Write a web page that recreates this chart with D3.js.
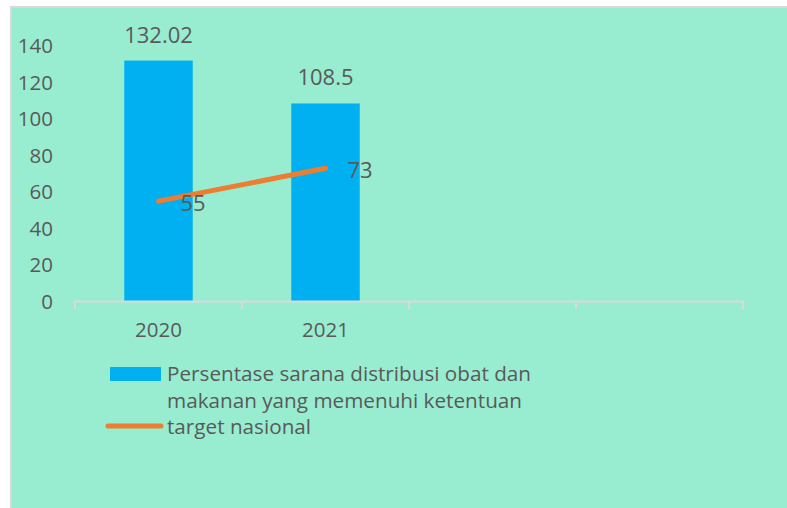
<!DOCTYPE html>
<html>
<head>
<meta charset="utf-8">
<script src="https://cdn.jsdelivr.net/npm/d3@7"></script>
<style>
  body { margin: 0; background: #fff; }
  text { font-family: "Open Sans", sans-serif; fill: #595959; }
</style>
</head>
<body>
<div id="chart"></div>
<script>
// data
var categories = ["2020", "2021", "", ""];
var barValues = [132.02, 108.5];
var targetValues = [55, 73];
var yTicks = [0, 20, 40, 60, 80, 100, 120, 140];
var barName = ["Persentase sarana distribusi obat dan", "makanan yang memenuhi ketentuan"];
var lineName = "target nasional";

var svgWidth = 787;
var svgHeight = 508;

var margin = { top: 46, right: 44, bottom: 206, left: 75 };
var width = svgWidth - margin.left - margin.right;
var height = 301.5 - margin.top;

var svg = d3.select("#chart")
    .append("svg")
    .attr("width", svgWidth)
    .attr("height", svgHeight);

// panel
svg.append("rect")
    .attr("x", 11)
    .attr("y", 7)
    .attr("width", svgWidth - 10)
    .attr("height", svgHeight - 6)
    .attr("fill", "#98edd1")
    .attr("stroke", "#d9d9d9")
    .attr("stroke-width", 2);

var chartGroup = svg.append("g")
    .attr("transform", `translate(${margin.left}, ${margin.top})`);

var xScale = d3.scaleBand()
    .domain(d3.range(categories.length))
    .range([0, width]);

var yScale = d3.scaleLinear()
    .domain([0, 140])
    .range([height, 0]);

// y labels (no axis line)
chartGroup.selectAll(".ylab")
    .data(yTicks)
    .enter()
    .append("text")
    .attr("class", "ylab")
    .attr("x", 53 - margin.left)
    .attr("y", d => yScale(d))
    .attr("dy", "0.35em")
    .attr("text-anchor", "end")
    .attr("font-size", "20.5px")
    .text(d => d);

// bars
var barW = xScale.bandwidth() * 0.41;
chartGroup.selectAll(".bar")
    .data(barValues)
    .enter()
    .append("rect")
    .attr("class", "bar")
    .attr("x", (d, i) => xScale(i) + xScale.bandwidth() / 2 - barW / 2)
    .attr("y", d => yScale(d))
    .attr("width", barW)
    .attr("height", d => height - yScale(d))
    .attr("fill", "#00b0f0");

chartGroup.selectAll(".barlab")
    .data(barValues)
    .enter()
    .append("text")
    .attr("class", "barlab")
    .attr("x", (d, i) => xScale(i) + xScale.bandwidth() / 2)
    .attr("y", d => yScale(d) - 18)
    .attr("text-anchor", "middle")
    .attr("font-size", "22px")
    .text(d => d);

// x axis
var xAxis = d3.axisBottom(xScale)
    .tickFormat(i => categories[i])
    .tickSize(0)
    .tickPadding(21);

var xg = chartGroup.append("g")
    .attr("transform", `translate(0, ${height})`)
    .call(xAxis);
xg.select(".domain").attr("stroke", "#d9d9d9").attr("stroke-width", 2)
    .attr("d", `M0,8V0H${width}V8`);
xg.selectAll("text").attr("font-size", "20.5px").attr("font-family", "Open Sans").attr("fill", "#595959");

chartGroup.selectAll(".sep")
    .data(d3.range(1, categories.length))
    .enter()
    .append("line")
    .attr("class", "sep")
    .attr("x1", i => xScale(i))
    .attr("x2", i => xScale(i))
    .attr("y1", height)
    .attr("y2", height + 8)
    .attr("stroke", "#d9d9d9")
    .attr("stroke-width", 2);

// target line
var line = d3.line()
    .x((d, i) => xScale(i) + xScale.bandwidth() / 2)
    .y(d => yScale(d));

chartGroup.append("path")
    .datum(targetValues)
    .attr("d", line)
    .attr("fill", "none")
    .attr("stroke", "#ed7d31")
    .attr("stroke-width", 5)
    .attr("stroke-linecap", "round");

chartGroup.selectAll(".linelab")
    .data(targetValues)
    .enter()
    .append("text")
    .attr("class", "linelab")
    .attr("x", (d, i) => xScale(i) + xScale.bandwidth() / 2 + 22)
    .attr("y", d => yScale(d) + 2)
    .attr("dy", "0.35em")
    .attr("font-size", "22px")
    .text(d => d);

// legend
var legend = svg.append("g");
legend.append("rect")
    .attr("x", 110)
    .attr("y", 367)
    .attr("width", 51)
    .attr("height", 14)
    .attr("fill", "#00b0f0");
legend.selectAll(".lt")
    .data(barName)
    .enter()
    .append("text")
    .attr("x", 167)
    .attr("y", (d, i) => 374 + i * 27)
    .attr("dy", "0.35em")
    .attr("font-size", "20.7px")
    .text(d => d);
legend.append("line")
    .attr("x1", 108).attr("x2", 161)
    .attr("y1", 426).attr("y2", 426)
    .attr("stroke", "#ed7d31")
    .attr("stroke-width", 5)
    .attr("stroke-linecap", "round");
legend.append("text")
    .attr("x", 167)
    .attr("y", 427)
    .attr("dy", "0.35em")
    .attr("font-size", "20.7px")
    .text(lineName);
</script>
</body>
</html>
